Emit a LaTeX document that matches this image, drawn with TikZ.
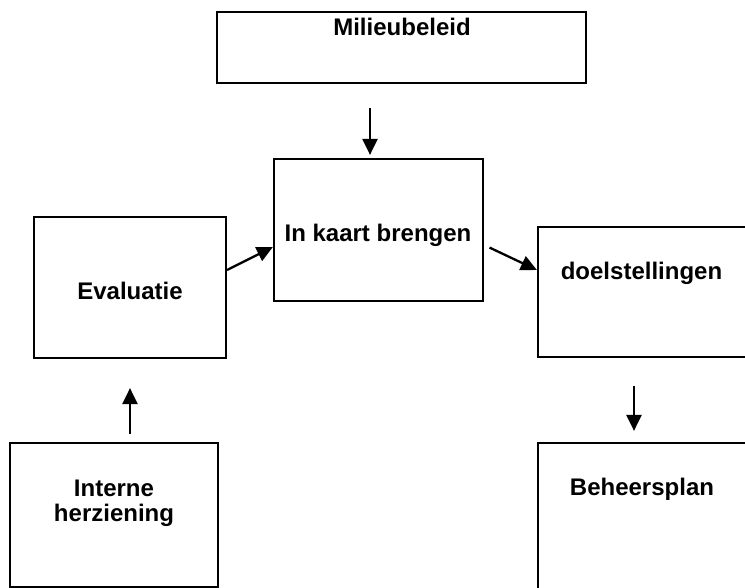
\documentclass[tikz,border=0pt]{standalone}
\usepackage{fontspec}
\setmainfont{Liberation Sans}
\usetikzlibrary{arrows.meta}
\begin{document}
\begin{tikzpicture}[x=1pt,y=1pt,
  box/.style={draw=black,line width=2.2pt,inner sep=0pt,minimum width=#1},
  lbl/.style={font=\fontsize{24}{25}\selectfont\bfseries,inner sep=0pt,align=center},
  arr/.style={line width=2.3pt,-{Triangle[length=16pt,width=15pt]}}]
\useasboundingbox (0,0) rectangle (745,588);
\clip (0,0) rectangle (745,588);
\fill[white] (0,0) rectangle (745,588);
% boxes
\node[box=369pt,minimum height=71pt]  (mil)    at (401.5,540.5) {};
\node[box=209pt,minimum height=142pt] (kaart)  at (378.5,358) {};
\node[box=192pt,minimum height=141pt] (eval)   at (130,300.5) {};
\node[box=208pt,minimum height=144pt] (intern) at (114,73) {};
\node[box=232pt,minimum height=130pt] (doel)   at (654,296) {};
\node[box=232pt,minimum height=177pt] (beheer) at (654,56.5) {};
% labels
\node[lbl,anchor=base] (tmil)    at (402,552) {Milieubeleid};
\node[lbl,anchor=base] (tkaart)  at (378,346) {In kaart brengen};
\node[lbl,anchor=base] (teval)   at (130,288) {Evaluatie};
\node[lbl]             (tintern) at (114,84.6) {Interne\\herziening};
\node[lbl,anchor=base] (tdoel)   at (641.5,308) {doelstellingen};
\node[lbl,anchor=base] (tbeheer) at (642,92) {Beheersplan};
% connectors
\draw[arr,shorten <=24pt,shorten >=3pt] ([xshift=-8.5pt]kaart.north |- mil.south) -- ([xshift=-8.5pt]kaart.north);
\draw[arr] ([yshift=17.5pt]eval.east) -- ([yshift=-17pt]kaart.west);
\draw[arr,shorten <=6pt] ([yshift=-15pt]kaart.east) -- ([yshift=22pt]doel.west);
\draw[arr,shorten <=28pt,shorten >=11pt] ([xshift=-20pt]doel.south) -- ([xshift=-20pt]doel.south |- beheer.north);
\draw[arr,shorten <=8pt,shorten >=29pt] (eval.south |- intern.north) -- (eval.south);
\end{tikzpicture}
\end{document}
